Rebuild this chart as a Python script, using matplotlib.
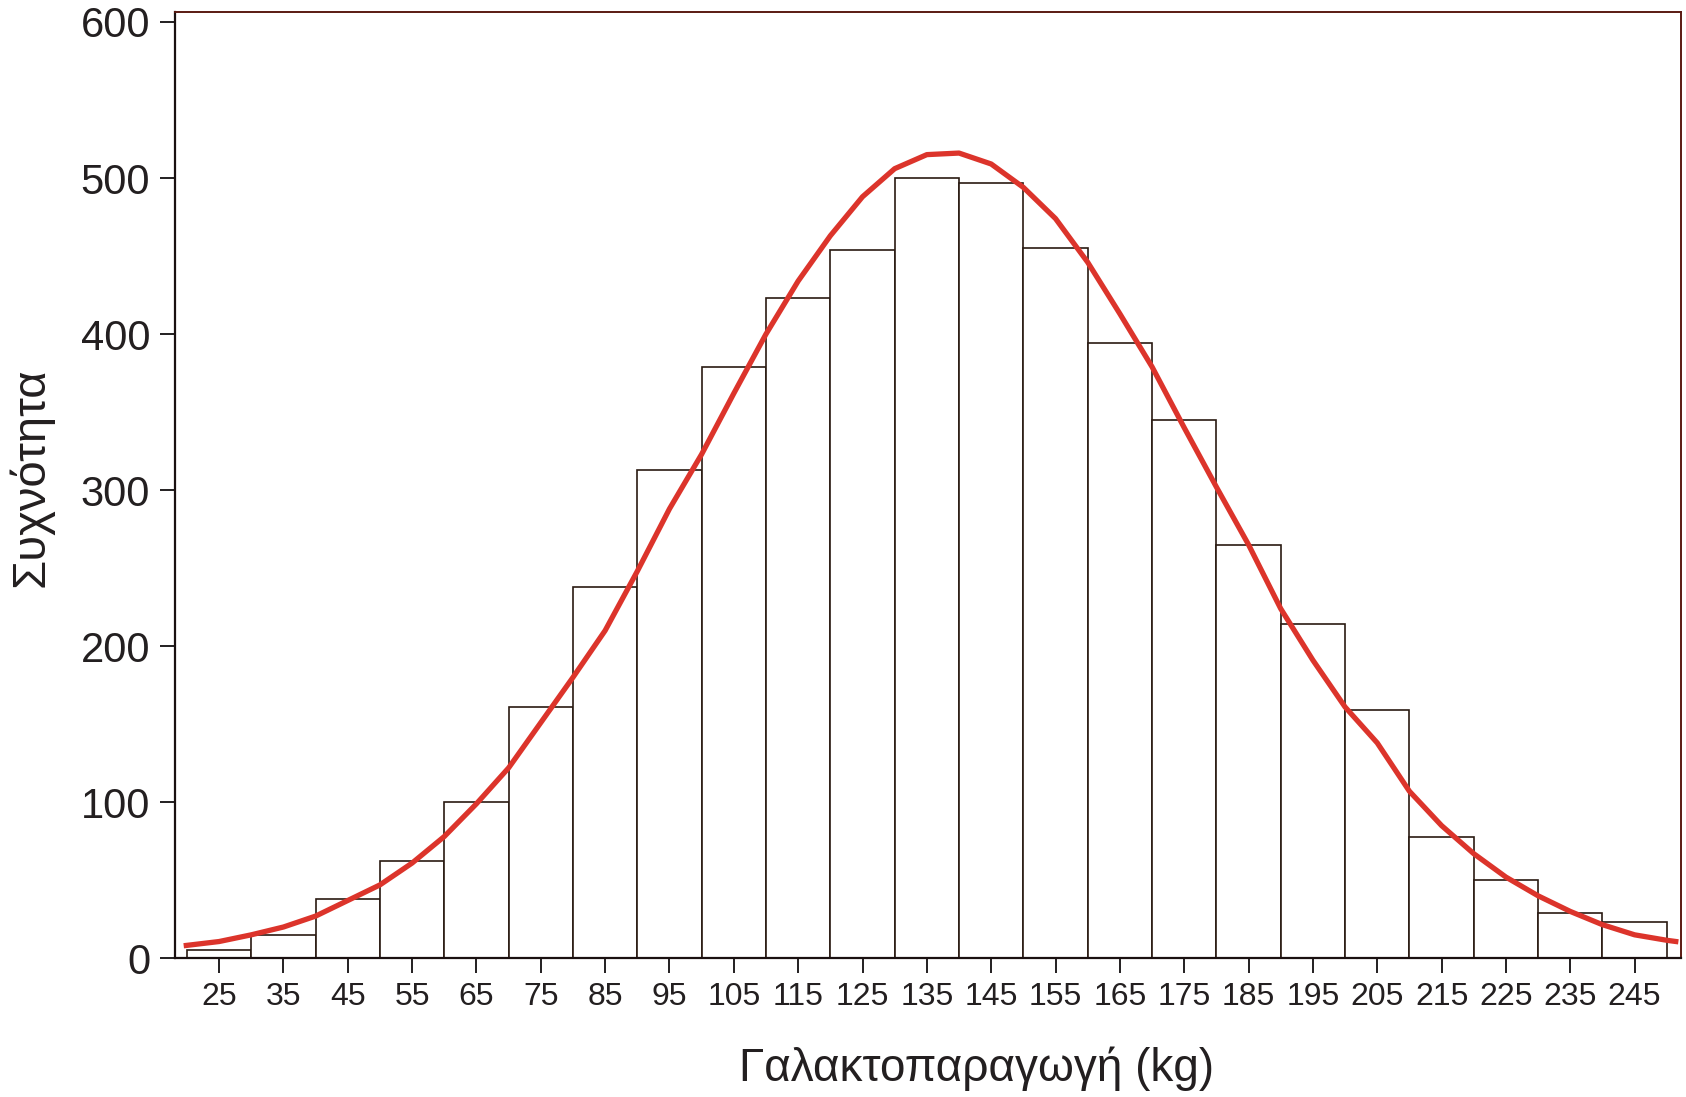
import numpy as np
import matplotlib.pyplot as plt

plt.rcParams['font.family'] = ['Liberation Sans', 'DejaVu Sans']

# histogram bins (kg) and counts
bin_edges = list(range(20, 251, 10))
counts = [5, 15, 38, 62, 100, 161, 238, 313, 379, 423, 454, 500, 497,
          455, 394, 345, 265, 214, 159, 78, 50, 29, 23]
tick_values = list(range(25, 246, 10))

# fitted normal curve
curve_x = [19.5, 25, 30, 35, 40, 45, 50, 55, 60, 65, 70, 75, 80, 85, 90, 95,
           100, 105, 110, 115, 120, 125, 130, 135, 140, 145, 150, 155, 160,
           165, 170, 175, 180, 185, 190, 195, 200, 205, 210, 215, 220, 225,
           230, 235, 240, 245, 250, 251.8]
curve_y = [8, 10.7, 15, 20, 27, 37, 47, 61, 78, 99, 122, 151, 180, 210, 248,
           288, 323, 362, 400, 434, 463, 488, 506, 515, 516, 509, 494, 474,
           446, 413, 379, 340, 302, 265, 224, 191, 161, 138, 107, 85, 67, 52,
           40, 30, 21.5, 15, 11.5, 10.5]

text_col = '#231f20'

fig = plt.figure(figsize=(16.86, 10.97), dpi=100)
ax = fig.add_axes([0.1038, 0.1265, 0.8932, 0.8627])

widths = np.diff(bin_edges)
ax.bar(bin_edges[:-1], counts, width=widths, align='edge',
       facecolor='white', edgecolor='#2a1a12', linewidth=1.2, zorder=2)
ax.plot(curve_x, curve_y, color='#dc342b', linewidth=3.8, zorder=3,
        solid_capstyle='butt', solid_joinstyle='round')

ax.set_xlim(18.15, 252.2)
ax.set_ylim(0, 606.5)
ax.set_xticks(tick_values)
ax.set_yticks(range(0, 601, 100))

for side in ['left', 'bottom']:
    ax.spines[side].set_color('#1a1010')
    ax.spines[side].set_linewidth(1.6)
for side in ['top', 'right']:
    ax.spines[side].set_color('#5a1a12')
    ax.spines[side].set_linewidth(1.4)

ax.tick_params(axis='y', direction='out', length=11, width=1.4,
               labelsize=30, pad=7, colors=text_col)
ax.tick_params(axis='x', direction='out', length=11, width=1.4,
               labelsize=23, pad=6, colors=text_col)

fig.text(0.579, 0.026, 'Γαλακτοπαραγωγή (kg)', fontsize=33,
         color=text_col, ha='center', va='center')
fig.text(0.018, 0.565, 'Συχνότητα', fontsize=34, color=text_col,
         rotation=90, ha='center', va='center')

fig.savefig('out.png', dpi=100, facecolor='white')
